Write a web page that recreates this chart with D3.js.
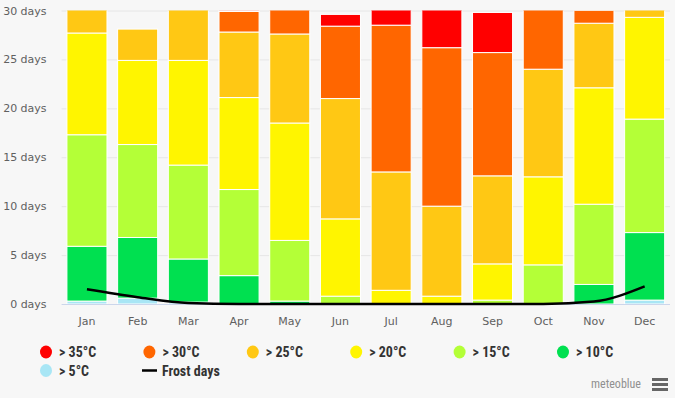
<!DOCTYPE html>
<html>
<head>
<meta charset="utf-8">
<script src="https://cdn.jsdelivr.net/npm/d3@7"></script>
<style>
  body { margin: 0; background: #f7f7f7; }
  svg { display: block; }
</style>
</head>
<body>
<div id="chart"></div>
<script>
// month categories
var months = ["Jan", "Feb", "Mar", "Apr", "May", "Jun", "Jul", "Aug", "Sep", "Oct", "Nov", "Dec"];

// days per month in each max temperature band
var above5  = [0.3, 0.6, 0.2, 0, 0, 0, 0, 0, 0, 0, 0, 0.4];
var above10 = [5.6, 6.2, 4.4, 2.9, 0.3, 0, 0, 0, 0, 0, 2.0, 6.9];
var above15 = [11.4, 9.5, 9.6, 8.8, 6.2, 0.8, 0, 0, 0.4, 4.0, 8.2, 11.6];
var above20 = [10.4, 8.6, 10.7, 9.4, 12.0, 7.9, 1.4, 0.8, 3.7, 9.0, 11.9, 10.4];
var above25 = [3.3, 3.2, 6.1, 6.7, 9.1, 12.3, 12.1, 9.2, 9.0, 11.0, 6.6, 1.7];
var above30 = [0, 0, 0, 2.1, 3.4, 7.4, 15.0, 16.2, 12.6, 7.0, 1.3, 0];
var above35 = [0, 0, 0, 0.1, 0, 1.2, 2.5, 4.8, 4.1, 0, 0, 0];
var frostDays = [1.5, 0.7, 0.1, 0, 0, 0, 0, 0, 0, 0, 0.25, 1.8];

var yTicks = [0, 5, 10, 15, 20, 25, 30];

// series from the bottom up
var series = [
	{name: "> 5°C",  values: above5,  color: "#a8e6f5"},
	{name: "> 10°C", values: above10, color: "#00e050"},
	{name: "> 15°C", values: above15, color: "#b4ff37"},
	{name: "> 20°C", values: above20, color: "#fff500"},
	{name: "> 25°C", values: above25, color: "#ffc814"},
	{name: "> 30°C", values: above30, color: "#ff6600"},
	{name: "> 35°C", values: above35, color: "#ff0000"}
];

var width = 675, height = 398;
var margin = {top: 10.5, right: 5, bottom: 94, left: 61.6};
var plotW = width - margin.left - margin.right,
	plotH = height - margin.top - margin.bottom;

var svg = d3.select("#chart").append("svg")
	.attr("width", width)
	.attr("height", height);

svg.append("rect")
	.attr("width", width)
	.attr("height", height)
	.attr("fill", "#f7f7f7");

var x = d3.scaleBand()
	.domain(months)
	.range([0, plotW])
	.paddingInner(0.21)
	.paddingOuter(0.105);

var y = d3.scaleLinear()
	.domain([0, 30])
	.range([plotH, 0]);

var g = svg.append("g")
	.attr("transform", "translate(" + margin.left + "," + margin.top + ")");

svg.append("clipPath").attr("id", "plot")
	.append("rect")
	.attr("x", margin.left).attr("y", margin.top)
	.attr("width", plotW).attr("height", plotH);

// grid lines
g.selectAll(".grid")
	.data(yTicks.slice(1))
	.enter().append("line")
	.attr("x1", 0).attr("x2", plotW)
	.attr("y1", function(d) { return y(d) + 0.5; })
	.attr("y2", function(d) { return y(d) + 0.5; })
	.attr("stroke", "#e6e6e6")
	.attr("stroke-width", 1);

// y axis labels
g.selectAll(".ylab")
	.data(yTicks)
	.enter().append("text")
	.attr("x", -15)
	.attr("y", function(d) { return y(d) + 4; })
	.attr("text-anchor", "end")
	.style("font-family", "DejaVu Sans, sans-serif")
	.style("font-size", "11px")
	.style("fill", "#606060")
	.text(function(d) { return d + " days"; });

// stack the bands
var rows = months.map(function(m, i) {
	var r = {month: m};
	series.forEach(function(s) { r[s.name] = s.values[i]; });
	return r;
});
var stack = d3.stack().keys(series.map(function(s) { return s.name; }));
var stacked = stack(rows);

var bars = svg.append("g")
	.attr("clip-path", "url(#plot)")
	.append("g")
	.attr("transform", "translate(" + margin.left + "," + margin.top + ")");

bars.selectAll(".layer")
	.data(stacked)
	.enter().append("g")
	.attr("fill", function(d, i) { return series[i].color; })
	.selectAll("rect")
	.data(function(d) { return d.filter(function(p) { return p[1] - p[0] > 0; }); })
	.enter().append("rect")
	.attr("x", function(d) { return x(d.data.month); })
	.attr("width", x.bandwidth())
	.attr("y", function(d) { return y(d[1]); })
	.attr("height", function(d) { return y(d[0]) - y(d[1]); })
	.attr("stroke", "#ffffff")
	.attr("stroke-width", 1);

var overlay = svg.append("g")
	.attr("transform", "translate(" + margin.left + "," + margin.top + ")");

// x axis line
overlay.append("line")
	.attr("x1", 0).attr("x2", plotW)
	.attr("y1", plotH + 0.5).attr("y2", plotH + 0.5)
	.attr("stroke", "#ccd6eb");

// x axis labels
overlay.selectAll(".xlab")
	.data(months)
	.enter().append("text")
	.attr("x", function(d) { return x(d) + x.bandwidth() / 2; })
	.attr("y", plotH + 21)
	.attr("text-anchor", "middle")
	.style("font-family", "DejaVu Sans, sans-serif")
	.style("font-size", "11px")
	.style("fill", "#606060")
	.text(function(d) { return d; });

// frost days line
var line = d3.line()
	.x(function(d, i) { return x(months[i]) + x.bandwidth() / 2; })
	.y(function(d) { return y(d); })
	.curve(d3.curveMonotoneX);

overlay.append("path")
	.datum(frostDays)
	.attr("d", line)
	.attr("fill", "none")
	.attr("stroke", "#000000")
	.attr("stroke-width", 2.5);

// legend
var legendFont = "'Liberation Sans Narrow', 'Roboto Condensed', 'Liberation Sans', sans-serif";
var legendItems = series.slice().reverse();
var legend = svg.append("g");

legendItems.forEach(function(s, i) {
	var col = i % 6, row = Math.floor(i / 6);
	var lx = 46 + col * 103.4, ly = 352 + row * 18.5;
	legend.append("ellipse")
		.attr("cx", lx).attr("cy", ly)
		.attr("rx", 6).attr("ry", 6.5)
		.attr("fill", s.color);
	legend.append("text")
		.attr("x", lx + 13).attr("y", ly + 5)
		.style("font-family", legendFont)
		.style("font-size", "14px")
		.style("font-weight", "bold")
		.style("fill", "#333333")
		.text(s.name);
});

legend.append("line")
	.attr("x1", 142).attr("x2", 157)
	.attr("y1", 370.5).attr("y2", 370.5)
	.attr("stroke", "#000").attr("stroke-width", 2.5);
legend.append("text")
	.attr("x", 162).attr("y", 375.5)
	.style("font-family", legendFont)
	.style("font-size", "14px")
	.style("font-weight", "bold")
	.style("fill", "#333333")
	.text("Frost days");

// credit and menu icon
svg.append("text")
	.attr("x", 641).attr("y", 388)
	.attr("text-anchor", "end")
	.style("font-family", legendFont)
	.style("font-size", "12px")
	.style("fill", "#909090")
	.text("meteoblue");

[0, 5, 10].forEach(function(dy) {
	svg.append("rect")
		.attr("x", 652).attr("y", 378 + dy)
		.attr("width", 16).attr("height", 3)
		.attr("fill", "#666666");
});
</script>
</body>
</html>
